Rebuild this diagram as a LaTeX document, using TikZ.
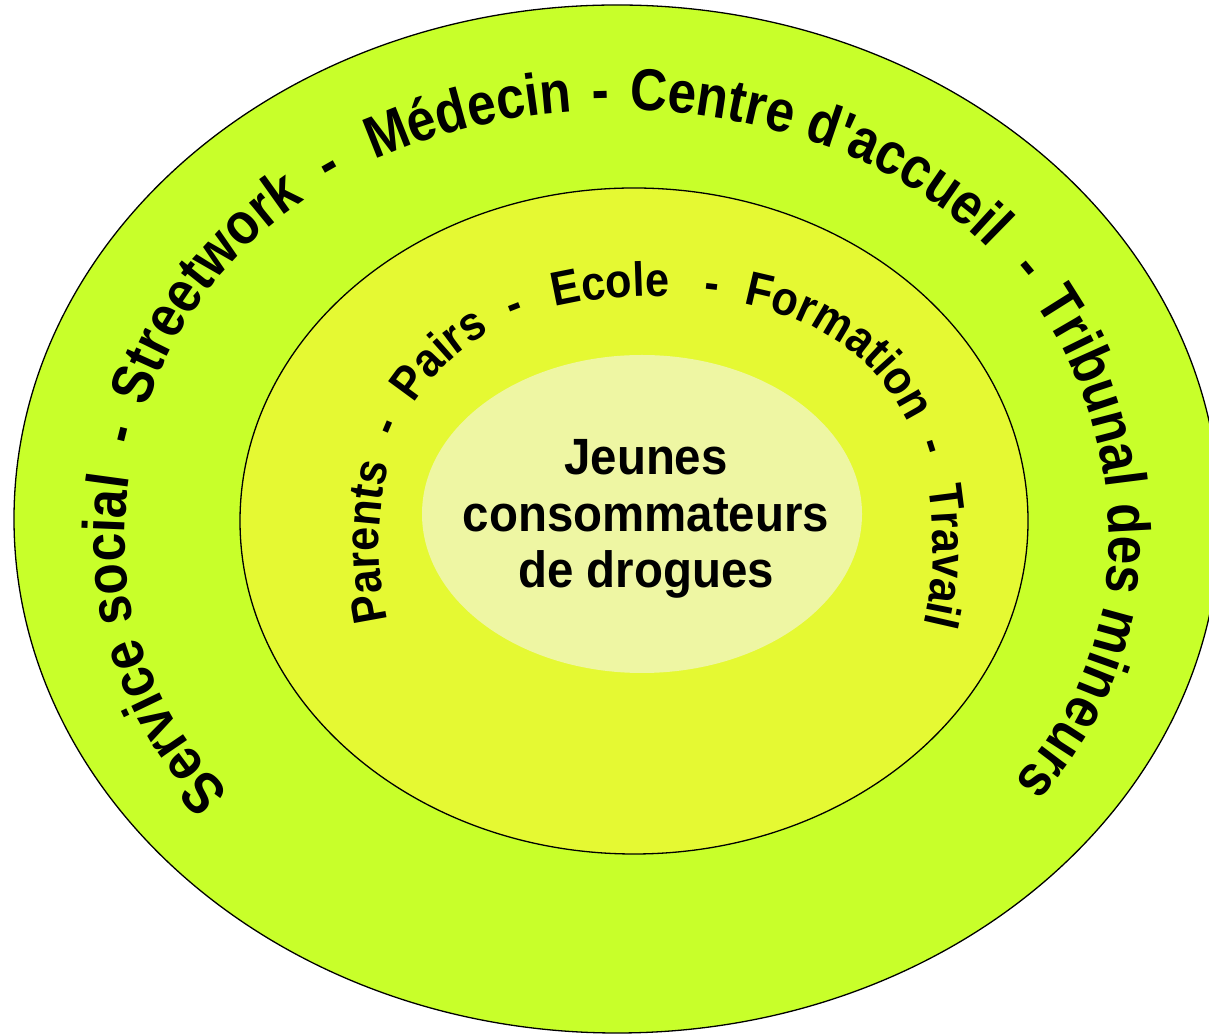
\documentclass[tikz,border=0pt]{standalone}
\usepackage{fontspec}
\setmainfont{Liberation Sans}
\newfontfamily\outerfam{Liberation Sans}[Ligatures=TeXOff,FakeStretch=0.87]
\newfontfamily\innerfam{Liberation Sans}[Ligatures=TeXOff,FakeStretch=0.9]
\newfontfamily\centrefam{Liberation Sans}[FakeStretch=0.93]
\usetikzlibrary{decorations.text}
\definecolor{outerc}{RGB}{200,255,42}
\definecolor{midc}{RGB}{229,249,51}
\definecolor{innerc}{RGB}{238,246,163}
\newcommand\ofont{\outerfam\bfseries\fontsize{59}{64}\selectfont}
\newcommand\ifont{\innerfam\bfseries\fontsize{48}{54}\selectfont}
% radius factor: 1 + kb*sin^2(2t) - ml*min(0,sin t)^2
\newcommand\rf[1]{(1+\kb*pow(sin(2*(#1)),2)-\ml*pow(min(0,sin(#1)),2))}
% cx cy rx ry start end text
\newcommand\arcword[7]{%
  \path[decorate,decoration={text along path,text align=center,text={#7}}]
    plot[domain=0:1,samples=\nsamp,variable=\uu]
    ({(#1)+(#3)*\rf{(#5)+((#6)-(#5))*\uu}*cos((#5)+((#6)-(#5))*\uu)},
     {(#2)+(#4)*\rf{(#5)+((#6)-(#5))*\uu}*sin((#5)+((#6)-(#5))*\uu)});}
\newcommand\outerword[3]{\pgfmathtruncatemacro\nsamp{#2+4}%
  \def\kb{0.015}\def\ml{0.09}%
  \arcword{617}{495}{492}{430}{(#1)+(#2)}{(#1)-(#2)}{|\ofont|#3}}
\newcommand\innerword[3]{\pgfmathtruncatemacro\nsamp{#2+4}%
  \def\kb{0.05}\def\ml{0}%
  \arcword{656}{490}{277}{249}{(#1)+(#2)}{(#1)-(#2)}{|\ifont|#3}}
\tikzset{ctext/.style={font=\centrefam\bfseries\fontsize{51}{56}\selectfont, anchor=base, inner sep=0pt}}
\begin{document}
\begin{tikzpicture}[x=1pt,y=1pt]
\useasboundingbox (0,0) rectangle (1209,1035);
\clip (0,0) rectangle (1209,1035);
\fill[white] (0,0) rectangle (1209,1035);
\draw[fill=outerc, line width=1.3pt] (617,516) ellipse [x radius=603pt, y radius=514pt];
\draw[fill=midc, line width=1.3pt] (634,514) ellipse [x radius=394pt, y radius=333pt];
\fill[innerc] (642,521) ellipse [x radius=220pt, y radius=159pt];
% outer ring
\outerword{204.5}{24}{Service}
\outerword{181.2}{22}{social}
\outerword{166.4}{8}{-}
\outerword{145.9}{26}{Streetwork}
\outerword{124.3}{8}{-}
\outerword{107.3}{22}{Médecin}
\outerword{91.9}{8}{-}
\outerword{79}{20}{Centre}
\outerword{54.5}{24}{d'accueil}
\outerword{36.8}{8}{-}
\outerword{19.6}{24}{Tribunal}
\outerword{-1.1}{15}{des}
\outerword{-21.5}{24}{mineurs}
% inner ring
\innerword{179.4}{28}{Parents}
\innerword{153.9}{8}{-}
\innerword{136.5}{22}{Pairs}
\innerword{118.6}{8}{-}
\innerword{99}{22}{Ecole}
\innerword{78.8}{8}{-}
\innerword{49.7}{34}{Formation}
\innerword{21.6}{8}{-}
\innerword{-2.3}{28}{Travail}
% centre
\node[ctext] (l1) at (646,560) {Jeunes};
\node[ctext] (l2) at (646,503) {consommateurs};
\node[ctext] (l3) at (646,447) {de drogues};
\end{tikzpicture}
\end{document}
